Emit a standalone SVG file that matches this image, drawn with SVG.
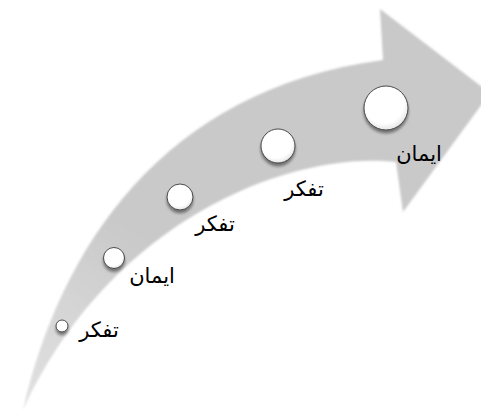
<svg xmlns="http://www.w3.org/2000/svg" width="481" height="417" viewBox="0 0 481 417">
<defs>
<filter id="soft" x="-10%" y="-10%" width="120%" height="120%"><feGaussianBlur stdDeviation="0.8"/></filter>
<linearGradient id="arrowFill" x1="0" y1="1" x2="0.3" y2="0.6">
<stop offset="0" stop-color="#e2e2e2"/><stop offset="1" stop-color="#c9c9c9"/>
</linearGradient>
<radialGradient id="dot" cx="0.45" cy="0.4" r="0.6">
<stop offset="0.75" stop-color="#ffffff"/><stop offset="1" stop-color="#e6e6e6"/>
</radialGradient>
<filter id="shadow" x="-40%" y="-40%" width="180%" height="190%">
<feGaussianBlur in="SourceAlpha" stdDeviation="1.6"/><feOffset dx="0" dy="2.5" result="b"/>
<feComponentTransfer><feFuncA type="linear" slope="0.45"/></feComponentTransfer>
<feMerge><feMergeNode/><feMergeNode in="SourceGraphic"/></feMerge>
</filter>
<style>
.dot{fill:url(#dot);stroke:#3a3a3a;stroke-width:0.9;filter:url(#shadow)}
.lbl{font-family:"DejaVu Sans",sans-serif;font-size:21px;fill:#000;text-anchor:middle}
</style>
</defs>
<rect width="481" height="417" fill="#fff"/>
<g id="arrow">
<path d="M23,410 C60,250 160,90 383,60 L380,9 L490,93 L403,212 L396,162 C290,150 110,220 23,410 Z" fill="url(#arrowFill)" filter="url(#soft)"/>
</g>
<g id="connectors"></g>
<g id="n1"><circle class="dot" cx="62" cy="326" r="6"/><text class="lbl" x="99" y="337">تفکر</text></g>
<g id="n2"><circle class="dot" cx="114" cy="258" r="10.5"/><text class="lbl" x="152" y="283">ایمان</text></g>
<g id="n3"><circle class="dot" cx="180" cy="197" r="13"/><text class="lbl" x="215" y="231">تفکر</text></g>
<g id="n4"><circle class="dot" cx="278" cy="146" r="17"/><text class="lbl" x="304" y="196">تفکر</text></g>
<g id="n5"><circle class="dot" cx="386" cy="108" r="22"/><text class="lbl" x="419" y="161">ایمان</text></g>
</svg>
